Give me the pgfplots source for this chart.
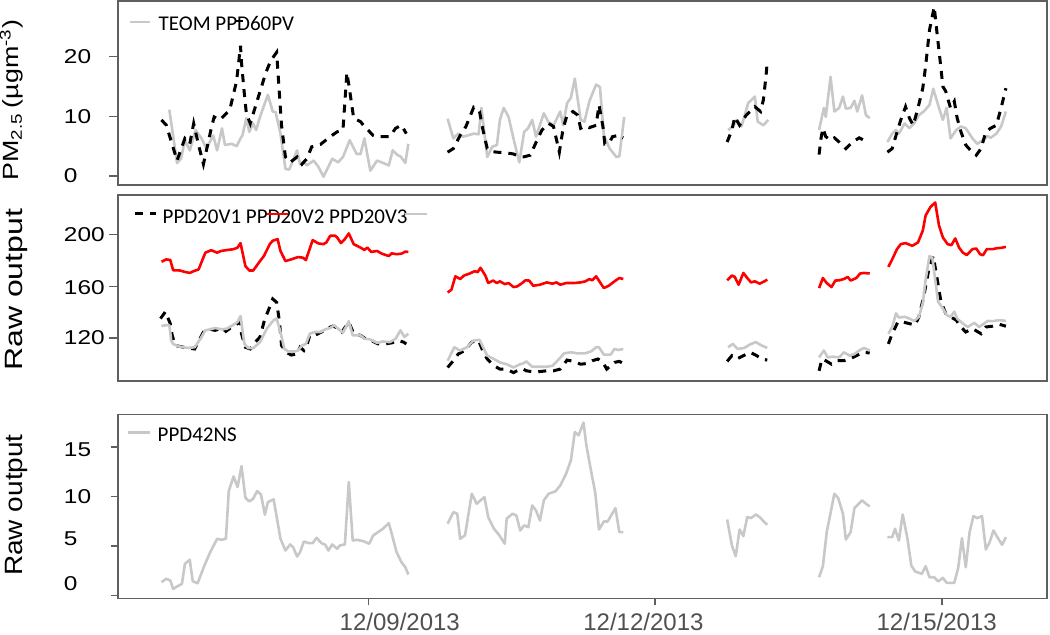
\documentclass[border=0pt]{standalone}
\usepackage{fontspec}
\setmainfont{Liberation Sans}
\newfontfamily\legfont{Carlito}
\usepackage{pgfplots}
\pgfplotsset{compat=1.18}
\definecolor{framegray}{RGB}{95,95,95}
\definecolor{lgray}{RGB}{200,200,200}
\definecolor{labgray}{RGB}{80,80,80}

\pgfplotsset{
  panel/.style={
    scale only axis, width=464.5pt, xmin=6.379, xmax=16.100,
    axis line style={draw=framegray, line width=0.75pt},
    tick style={draw=framegray, line width=0.75pt},
    tick align=outside, major tick length=4.5pt,
    xtick=\empty, ytick pos=left, yticklabels={},
    unbounded coords=jump, anchor=north west,
  },
  grayline/.style={lgray, line width=1.3pt, line join=round},
  redline/.style={red, line width=1.3pt, line join=round},
  dashline/.style={black, line width=1.5pt, dash pattern=on 4pt off 3.5pt},
}
\tikzset{
  ylab/.style={anchor=west, inner sep=0pt, xscale=1.22, font=\fontsize{10}{11}\selectfont},
  xlab/.style={anchor=north, inner sep=0pt, text=labgray, font=\fontsize{12}{13}\selectfont},
  leg/.style={anchor=base west, inner sep=0pt, font=\legfont\fontsize{10.5}{12}\selectfont},
}

\begin{document}
\begin{tikzpicture}
\useasboundingbox (0,0) rectangle (525pt,-317pt);

% top panel: TEOM and PPD60PV
\begin{axis}[panel, at={(59pt,-0.5pt)}, height=92pt,
  ymin=-1.49, ymax=29.28, ytick={0,10,20}]
\addplot[grayline] coordinates {
(6.916,11.1) (6.997,2.2) (7.038,2.9) (7.079,6.0) (7.130,4.3) (7.191,7.7) (7.253,6.3) (7.304,4.6) (7.375,6.8) (7.416,4.3)
(7.467,8.0) (7.498,5.2) (7.569,5.4) (7.620,5.0) (7.661,6.3) (7.681,6.8) (7.722,9.7) (7.753,7.4) (7.794,8.8) (7.824,7.7)
(7.865,9.9) (7.947,13.6) (7.998,10.8) (8.028,10.7) (8.079,7.1) (8.131,1.2) (8.171,1.1) (8.253,4.3) (8.284,2.0) (8.324,2.4)
(8.355,1.8) (8.427,2.6) (8.478,1.5) (8.529,-0.1) (8.621,2.9) (8.682,2.3) (8.733,3.2) (8.804,6.0) (8.876,3.7) (8.917,3.7)
(8.957,6.3) (9.019,0.9) (9.090,2.6) (9.213,1.8) (9.253,4.3) (9.305,3.5) (9.335,3.3) (9.386,2.2) (9.417,5.4)
(9.6,nan)
(9.828,9.6) (9.888,6.3) (9.939,7.1) (9.990,6.6) (10.040,6.8) (10.101,7.1) (10.152,7.0) (10.182,11.4) (10.243,3.2) (10.294,4.9)
(10.344,5.2) (10.375,9.4) (10.415,11.4) (10.466,9.9) (10.517,6.3) (10.578,2.3) (10.629,7.4) (10.670,8.0) (10.713,9.4) (10.753,6.6)
(10.835,10.5) (10.885,9.0) (10.936,8.5) (11.007,10.8) (11.037,8.5) (11.078,12.2) (11.118,13.1) (11.159,16.3) (11.220,9.4) (11.260,9.1)
(11.311,12.5) (11.382,15.3) (11.422,14.9) (11.463,6.8) (11.524,4.6) (11.594,3.2) (11.625,3.3) (11.676,9.9)
(12.2,nan)
(12.763,7.7) (12.813,8.3) (12.853,9.4) (12.903,8.3) (12.973,12.2) (13.043,13.3) (13.073,9.1) (13.133,8.5) (13.183,9.4)
(13.5,nan)
(13.715,7.7) (13.765,11.4) (13.785,9.9) (13.835,16.6) (13.875,10.8) (13.925,11.4) (13.965,13.3) (13.995,11.3) (14.045,11.4) (14.085,12.6)
(14.115,10.8) (14.165,13.5) (14.205,10.2) (14.245,9.7)
(14.35,nan)
(14.43,5.7) (14.48,7.1) (14.52,7.7) (14.55,7.1) (14.61,8.8) (14.66,8.0) (14.71,8.8) (14.76,10.2) (14.81,10.8) (14.87,11.9)
(14.91,14.6) (14.97,11.4) (15.01,9.4) (15.05,11.4) (15.09,6.3) (15.15,7.7) (15.20,8.3) (15.25,8.0) (15.32,6.3) (15.37,5.4)
(15.43,6.0) (15.48,6.7) (15.51,6.4) (15.57,7.1) (15.62,8.3) (15.67,10.8)
};
\addplot[dashline] coordinates {
(6.834,9.4) (6.885,8.5) (6.997,2.6) (7.079,6.3) (7.130,5.4) (7.171,8.8) (7.222,5.2) (7.273,2.0) (7.355,8.0) (7.385,9.9)
(7.446,9.4) (7.549,11.1) (7.620,15.9) (7.661,21.8) (7.671,19.0) (7.702,13.6) (7.722,10.5) (7.763,8.8) (7.845,13.1) (7.926,17.3)
(7.977,19.3) (8.039,20.7) (8.059,15.9) (8.090,8.5) (8.131,3.2) (8.181,2.3) (8.253,3.2) (8.304,2.0) (8.355,2.9) (8.406,4.9)
(8.498,5.3) (8.600,6.6) (8.672,7.4) (8.733,7.7) (8.774,17.3) (8.794,15.3) (8.825,11.9) (8.845,9.7) (8.917,9.1) (8.947,8.5)
(9.049,6.8) (9.100,6.6) (9.223,6.6) (9.284,8.0) (9.345,8.5) (9.396,7.1)
(9.6,nan)
(9.828,4.0) (9.888,4.6) (9.959,6.8) (10.020,8.3) (10.101,11.5) (10.162,10.8) (10.202,7.4) (10.243,4.6) (10.294,4.1) (10.344,4.0)
(10.436,3.9) (10.517,3.7) (10.588,3.2) (10.620,3.2) (10.693,3.5) (10.764,6.0) (10.815,7.7) (10.885,8.8) (10.936,8.3) (10.997,4.0)
(11.037,8.0) (11.078,10.2) (11.139,10.8) (11.189,10.2) (11.220,8.0) (11.270,8.4) (11.311,8.1) (11.382,8.5) (11.412,11.9) (11.453,8.3)
(11.473,5.4) (11.524,5.7) (11.554,6.6) (11.615,6.8) (11.666,6.4)
(12.2,nan)
(12.753,5.7) (12.803,7.7) (12.833,9.9) (12.883,8.5) (12.953,10.2) (13.043,11.6) (13.103,10.8) (13.133,12.8) (13.163,17.3) (13.173,19.3)
(13.5,nan)
(13.715,3.6) (13.735,6.3) (13.755,8.0) (13.785,6.6) (13.835,6.0) (13.875,6.4) (13.925,5.7) (13.995,4.6) (14.065,5.7) (14.135,6.4)
(14.185,6.0) (14.225,5.4)
(14.35,nan)
(14.43,4.0) (14.48,4.6) (14.52,6.8) (14.57,9.4) (14.62,11.6) (14.66,9.7) (14.70,8.5) (14.75,11.4) (14.80,14.7) (14.83,18.4)
(14.87,24.4) (14.92,28.3) (14.95,23.8) (14.99,18.1) (15.01,15.0) (15.04,14.2) (15.09,11.4) (15.13,12.5) (15.16,9.7) (15.20,7.4)
(15.25,5.2) (15.30,4.3) (15.36,3.5) (15.41,4.6) (15.46,7.4) (15.51,8.0) (15.57,8.5) (15.62,11.4) (15.67,14.7)
};
\end{axis}

% middle panel: PPD20V1, PPD20V2, PPD20V3
\begin{axis}[panel, at={(59pt,-97.5pt)}, height=93pt,
  ymin=86.8, ymax=230.7, ytick={120,160,200}]
\addplot[dashline] coordinates {
(6.824,135.1) (6.875,140.4) (6.926,131.2) (6.946,122.1) (6.977,114.3) (7.110,112.2) (7.181,111.6) (7.273,124.7) (7.344,126.8) (7.395,126.0)
(7.467,127.8) (7.508,125.2) (7.569,128.6) (7.630,131.2) (7.661,132.5) (7.671,123.4) (7.712,112.9) (7.763,111.6) (7.814,116.9) (7.865,120.8)
(7.916,135.1) (7.947,140.4) (7.998,150.3) (8.039,147.7) (8.069,132.5) (8.090,114.3) (8.141,109.0) (8.192,106.9) (8.253,107.7) (8.284,112.9)
(8.324,110.4) (8.355,114.3) (8.386,122.1) (8.437,122.1) (8.508,124.7) (8.559,127.3) (8.631,129.4) (8.682,127.3) (8.723,124.7) (8.794,132.5)
(8.845,123.4) (8.917,122.1) (8.968,119.5) (9.029,118.2) (9.100,115.5) (9.172,115.5) (9.243,116.3) (9.315,118.2) (9.366,116.9) (9.396,115.5)
(9.6,nan)
(9.828,97.3) (9.888,102.5) (9.939,107.7) (10.010,110.4) (10.081,116.9) (10.152,118.2) (10.202,109.0) (10.243,103.8) (10.314,98.6) (10.375,96.0)
(10.446,96.0) (10.517,93.3) (10.588,96.0) (10.620,96.0) (10.652,94.7) (10.723,93.9) (10.794,94.1) (10.865,94.7) (10.936,94.7) (11.007,96.0)
(11.078,103.0) (11.149,102.0) (11.220,99.8) (11.291,100.4) (11.341,102.5) (11.402,103.8) (11.453,101.2) (11.493,96.0) (11.574,101.2) (11.625,102.0)
(11.666,100.4)
(12.2,nan)
(12.753,102.0) (12.803,106.4) (12.853,103.8) (12.923,106.4) (12.993,109.0) (13.063,106.4) (13.113,103.8) (13.173,103.0)
(13.5,nan)
(13.715,94.7) (13.745,103.8) (13.785,102.5) (13.845,99.8) (13.905,102.5) (13.975,102.5) (14.035,103.8) (14.105,106.4) (14.175,109.0) (14.245,108.5)
(14.35,nan)
(14.44,115.5) (14.48,123.4) (14.54,132.5) (14.59,132.5) (14.66,131.2) (14.72,130.0) (14.76,136.5) (14.81,152.2) (14.87,175.7) (14.91,183.5)
(14.94,170.4) (14.99,148.2) (15.04,139.1) (15.09,136.5) (15.15,133.9) (15.20,128.6) (15.25,124.7) (15.32,127.3) (15.41,123.4) (15.46,128.6)
(15.53,129.2) (15.60,130.7) (15.67,129.2)
};
\addplot[redline] coordinates {
(6.834,179.1) (6.885,180.9) (6.926,180.4) (6.956,172.5) (7.028,172.3) (7.079,171.2) (7.130,170.4) (7.171,171.8) (7.222,173.1) (7.293,186.1)
(7.355,188.0) (7.416,186.1) (7.457,187.4) (7.508,188.0) (7.589,188.8) (7.630,190.0) (7.661,193.5) (7.712,175.7) (7.753,172.3) (7.794,172.3)
(7.865,179.6) (7.906,183.5) (7.967,192.7) (7.998,195.3) (8.049,196.6) (8.079,187.4) (8.131,179.6) (8.192,180.9) (8.263,182.7) (8.314,182.2)
(8.345,180.4) (8.416,195.8) (8.478,193.2) (8.529,192.7) (8.559,194.0) (8.600,199.2) (8.651,199.2) (8.672,197.9) (8.712,193.5) (8.753,196.6)
(8.794,201.0) (8.845,192.7) (8.917,190.0) (8.957,188.2) (8.988,190.0) (9.029,186.7) (9.090,187.4) (9.141,185.3) (9.213,183.5) (9.243,185.6)
(9.294,184.9) (9.345,185.3) (9.386,186.9) (9.417,186.7)
(9.6,nan)
(9.828,155.3) (9.868,157.4) (9.909,167.8) (9.959,165.7) (10.000,168.4) (10.061,170.0) (10.111,171.8) (10.142,171.0) (10.172,174.4) (10.223,168.4)
(10.253,162.6) (10.304,164.5) (10.344,162.6) (10.375,163.9) (10.426,161.8) (10.466,162.6) (10.517,159.5) (10.557,160.0) (10.608,162.6) (10.642,164.7)
(10.682,164.5) (10.723,160.5) (10.794,161.3) (10.865,163.1) (10.926,162.1) (10.967,163.1) (11.007,161.3) (11.068,162.6) (11.149,162.6) (11.220,163.1)
(11.270,163.9) (11.311,165.7) (11.341,164.7) (11.382,167.8) (11.463,158.7) (11.514,160.5) (11.574,163.9) (11.625,166.5) (11.666,165.7)
(12.2,nan)
(12.753,164.7) (12.803,168.4) (12.833,167.3) (12.873,161.3) (12.923,170.4) (12.963,166.5) (13.003,163.1) (13.043,163.9) (13.093,162.1) (13.143,163.9)
(13.173,165.3)
(13.5,nan)
(13.715,158.7) (13.755,166.5) (13.795,162.6) (13.845,159.5) (13.885,164.5) (13.925,164.7) (13.975,165.7) (14.015,167.3) (14.045,164.5) (14.105,166.5)
(14.145,170.0) (14.185,170.4) (14.245,170.0)
(14.35,nan)
(14.44,175.1) (14.48,180.9) (14.53,188.8) (14.57,192.7) (14.62,193.5) (14.69,191.4) (14.75,194.0) (14.80,203.1) (14.83,214.9) (14.88,221.4)
(14.93,224.9) (14.97,207.1) (15.01,197.9) (15.06,192.7) (15.10,191.9) (15.14,197.1) (15.18,190.0) (15.22,186.1) (15.26,184.3) (15.32,188.8)
(15.36,189.3) (15.40,184.9) (15.43,184.1) (15.47,188.8) (15.53,188.8) (15.58,189.6) (15.62,189.8) (15.67,190.6)
};
\addplot[grayline] coordinates {
(6.834,129.4) (6.885,130.0) (6.916,130.0) (6.936,118.2) (6.956,115.5) (7.007,113.7) (7.058,112.9) (7.110,112.4) (7.181,112.9) (7.242,119.5)
(7.293,126.0) (7.344,126.8) (7.395,127.8) (7.467,126.8) (7.518,127.3) (7.589,130.4) (7.630,132.5) (7.661,137.0) (7.702,115.5) (7.743,112.2)
(7.794,112.2) (7.865,116.9) (7.936,127.3) (8.008,133.9) (8.039,135.1) (8.079,124.7) (8.120,111.6) (8.161,109.6) (8.222,109.6) (8.263,110.4)
(8.304,114.3) (8.345,115.5) (8.386,123.4) (8.437,124.7) (8.498,124.7) (8.549,126.8) (8.600,127.8) (8.641,130.0) (8.682,127.3) (8.733,124.2)
(8.794,133.1) (8.835,122.1) (8.917,122.1) (8.957,119.5) (9.019,119.0) (9.090,116.3) (9.151,117.4) (9.223,116.9) (9.284,119.5) (9.335,126.0)
(9.376,120.8) (9.417,123.4)
(9.6,nan)
(9.828,102.5) (9.898,112.9) (9.959,110.4) (10.030,112.9) (10.101,118.2) (10.162,118.7) (10.243,106.4) (10.314,103.8) (10.375,101.2) (10.446,99.8)
(10.517,97.3) (10.588,99.8) (10.620,100.5) (10.652,102.0) (10.713,97.8) (10.794,97.8) (10.865,97.8) (10.926,98.6) (10.977,102.5) (11.048,108.2)
(11.118,109.0) (11.189,108.2) (11.270,108.2) (11.331,109.8) (11.382,112.9) (11.412,112.9) (11.463,107.2) (11.534,107.2) (11.574,111.6) (11.615,110.8)
(11.666,111.6)
(12.2,nan)
(12.763,112.9) (12.813,115.5) (12.863,111.6) (12.933,112.4) (12.993,115.1) (13.053,116.9) (13.113,114.3) (13.173,112.4)
(13.5,nan)
(13.715,105.1) (13.765,110.4) (13.805,105.1) (13.855,105.6) (13.925,105.1) (13.975,109.0) (14.035,106.4) (14.085,107.7) (14.135,110.4) (14.185,112.4)
(14.245,110.4)
(14.35,nan)
(14.44,123.4) (14.48,128.6) (14.52,139.1) (14.55,135.9) (14.61,136.5) (14.66,135.1) (14.71,133.3) (14.76,136.5) (14.80,146.9) (14.83,165.3)
(14.87,183.5) (14.90,182.2) (14.93,165.3) (14.96,148.2) (15.01,143.0) (15.05,137.8) (15.09,136.5) (15.13,140.4) (15.16,135.1) (15.22,131.2)
(15.27,128.6) (15.34,131.8) (15.39,128.6) (15.44,131.2) (15.48,133.3) (15.53,133.1) (15.60,133.9) (15.67,133.3)
};
\end{axis}

% bottom panel: PPD42NS
\begin{axis}[panel, at={(59pt,-207.3pt)}, height=91.85pt,
  ymin=-0.28, ymax=18.27, ytick={0,5,10,15},
  xtick={9,12,15}, xticklabels={}, xtick pos=bottom, major tick length=3.5pt]
\addplot[grayline] coordinates {
(6.834,1.35) (6.885,1.69) (6.926,1.52) (6.956,0.68) (6.997,0.91) (7.048,1.18) (7.079,3.20) (7.130,3.61) (7.161,1.45) (7.212,1.24)
(7.283,3.03) (7.344,4.38) (7.416,5.73) (7.467,5.63) (7.508,5.73) (7.538,10.55) (7.589,12.03) (7.630,10.95) (7.671,13.07) (7.712,9.88)
(7.753,9.50) (7.794,9.78) (7.834,10.55) (7.875,10.21) (7.916,8.16) (7.947,9.43) (8.008,9.71) (8.079,5.73) (8.131,4.55) (8.181,5.16)
(8.212,4.88) (8.253,3.94) (8.284,4.38) (8.324,5.46) (8.375,5.29) (8.416,5.29) (8.457,5.83) (8.508,5.29) (8.549,5.12) (8.580,4.55)
(8.621,5.16) (8.672,4.72) (8.702,5.06) (8.753,5.16) (8.794,11.46) (8.835,5.56) (8.876,5.63) (8.947,5.49) (9.008,5.23) (9.049,6.07)
(9.100,6.40) (9.151,6.74) (9.213,7.31) (9.243,6.24) (9.294,4.38) (9.345,3.37) (9.386,2.86) (9.417,2.12)
(9.6,nan)
(9.828,7.25) (9.888,8.42) (9.929,8.26) (9.959,5.73) (10.010,6.07) (10.081,10.28) (10.132,9.27) (10.213,9.94) (10.253,7.92) (10.314,6.74)
(10.365,6.14) (10.426,5.23) (10.446,7.76) (10.507,8.26) (10.547,8.09) (10.588,6.57) (10.628,7.08) (10.673,6.91) (10.713,9.10) (10.753,8.59)
(10.794,7.58) (10.835,9.61) (10.885,10.28) (10.956,10.52) (11.007,11.12) (11.068,12.31) (11.118,13.65) (11.159,16.51) (11.199,16.18) (11.250,17.46)
(11.280,15.17) (11.331,12.47) (11.372,10.45) (11.412,6.67) (11.463,7.48) (11.503,7.48) (11.584,8.83) (11.625,6.40) (11.666,6.40)
(12.2,nan)
(12.753,7.68) (12.803,5.06) (12.843,3.97) (12.883,6.67) (12.923,6.00) (12.963,7.92) (13.003,7.82) (13.053,8.19) (13.093,7.92) (13.143,7.41)
(13.173,7.15)
(13.5,nan)
(13.715,1.85) (13.755,2.96) (13.795,6.40) (13.875,10.28) (13.915,9.84) (13.965,8.26) (13.995,5.66) (14.045,6.40) (14.085,8.83) (14.165,9.61)
(14.205,9.27) (14.245,9.00)
(14.35,nan)
(14.43,5.90) (14.48,5.90) (14.51,6.74) (14.55,5.56) (14.59,8.19) (14.64,5.73) (14.68,3.03) (14.72,2.43) (14.79,2.19) (14.83,2.96)
(14.87,1.85) (14.92,1.85) (14.96,1.42) (15.01,1.79) (15.05,1.28) (15.13,1.28) (15.17,2.76) (15.21,5.79) (15.25,2.86) (15.29,6.40)
(15.33,8.02) (15.37,7.82) (15.42,8.02) (15.46,4.65) (15.50,5.39) (15.54,6.57) (15.58,5.90) (15.63,5.13) (15.67,5.90)
};
\end{axis}

% tick labels, placed where the original has them
\node[ylab] at (31.75pt,-28.25pt) {20};
\node[ylab] at (31.75pt,-58.15pt) {10};
\node[ylab] at (31.75pt,-88.05pt) {0};
\node[ylab] at (31.75pt,-117.35pt) {200};
\node[ylab] at (31.75pt,-143.7pt) {160};
\node[ylab] at (31.75pt,-169.05pt) {120};
\node[ylab] at (31.75pt,-224.85pt) {15};
\node[ylab] at (31.75pt,-248.15pt) {10};
\node[ylab] at (31.75pt,-269.35pt) {5};
\node[ylab] at (31.75pt,-291.65pt) {0};
\node[xlab] at (199.9pt,-306.3pt) {12/09/2013};
\node[xlab] at (321.7pt,-306.3pt) {12/12/2013};
\node[xlab] at (468.35pt,-306.3pt) {12/15/2013};

% legends (as drawn in the original)
\draw[lgray, line width=1.1pt] (65pt,-10.85pt) -- (75pt,-10.85pt);
\node[leg] at (79.15pt,-15pt) {TEOM PPD60PV};
\draw[black, line width=1.3pt] (117.5pt,-10.5pt) -- (121.3pt,-10.5pt);

\draw[black, line width=1.5pt, dash pattern=on 4.2pt off 3.3pt] (67.5pt,-106.65pt) -- (77.8pt,-106.65pt);
\node[leg] at (81.15pt,-111.65pt) {PPD20V1 PPD20V2 PPD20V3};
\draw[red, line width=1.1pt] (133.3pt,-107pt) -- (144.2pt,-107pt);
\draw[lgray, line width=1.1pt] (202.5pt,-107pt) -- (213.3pt,-107pt);

\draw[lgray, line width=1.1pt] (64.15pt,-216.25pt) -- (75pt,-216.25pt);
\node[leg] at (78.65pt,-220.85pt) {PPD42NS};

% y labels
\node[rotate=90, xscale=1.22, anchor=base, font=\fontsize{11}{12}\selectfont] at (9.3pt,-50pt) {PM\textsubscript{2.5}\,(µgm\textsuperscript{-3})};
\node[rotate=90, xscale=1.28, anchor=base, font=\fontsize{12.5}{14}\selectfont] at (11pt,-144.9pt) {Raw output};
\node[rotate=90, xscale=1.12, anchor=base, font=\fontsize{12.5}{14}\selectfont] at (11pt,-252.5pt) {Raw output};
\end{tikzpicture}
\end{document}
